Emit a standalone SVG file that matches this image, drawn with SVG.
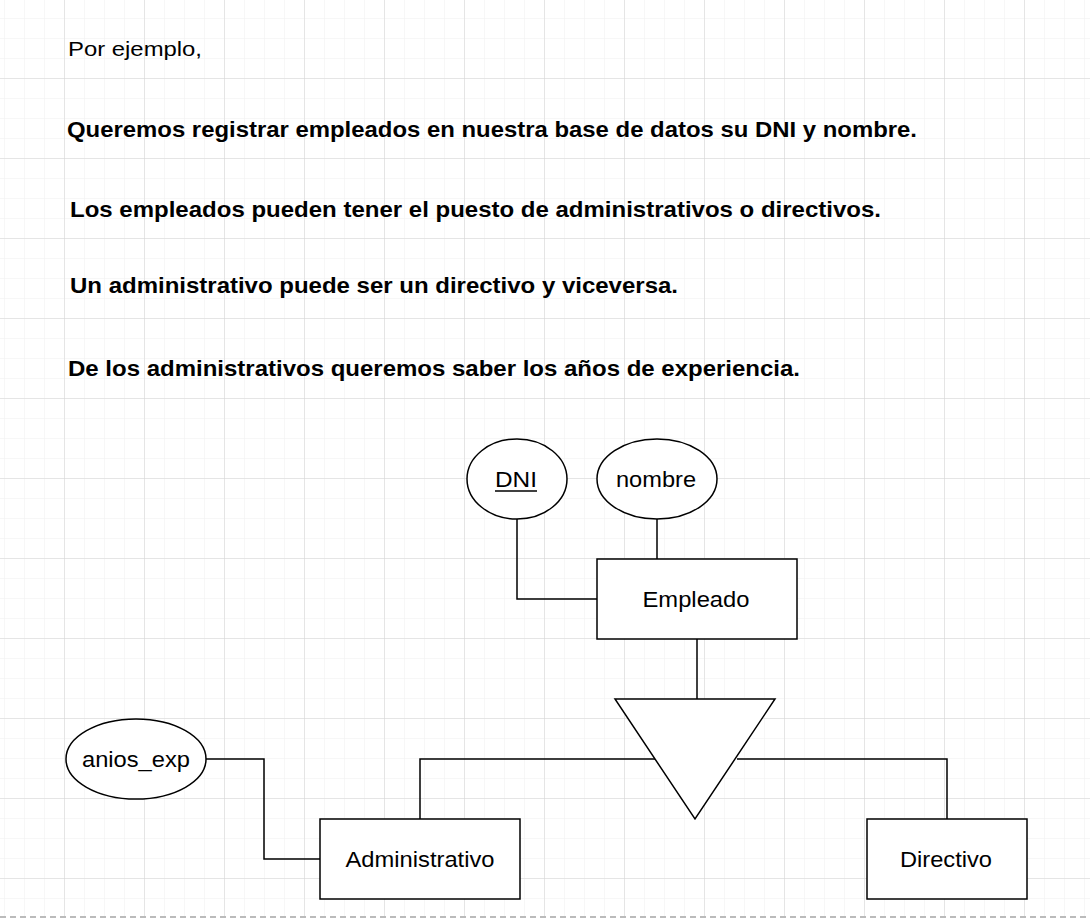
<svg xmlns="http://www.w3.org/2000/svg" width="1090" height="920" viewBox="0 0 1090 920">
<defs>
<pattern id="minor" x="4" y="-2" width="20" height="20" patternUnits="userSpaceOnUse"><path d="M0 0H20M0 0V20" fill="none" stroke="#f0f0f0" stroke-width="1"/></pattern>
<pattern id="major" x="64" y="-2" width="80" height="80" patternUnits="userSpaceOnUse"><path d="M0 0H80M0 0V80" fill="none" stroke="#d4d4d4" stroke-width="1"/></pattern>
</defs>
<style>
text{font-family:"Liberation Sans",Arial,sans-serif;fill:#000}
.b{font-weight:bold;font-size:22px}
.n{font-size:22px;text-anchor:middle;dominant-baseline:central}
.s{fill:#fff;stroke:#000;stroke-width:1.5}
.c{fill:none;stroke:#000;stroke-width:1.5}
</style>
<rect width="1090" height="920" fill="#fff"/>
<rect width="1090" height="918" fill="url(#minor)"/>
<rect width="1090" height="918" fill="url(#major)"/>
<line x1="0" y1="917" x2="1090" y2="917" stroke="#bbb" stroke-width="2" stroke-dasharray="6 4"/>
<g id="texts">
<text x="68" y="56" font-size="21" textLength="134" lengthAdjust="spacingAndGlyphs">Por ejemplo,</text>
<text class="b" x="67" y="137" textLength="850" lengthAdjust="spacingAndGlyphs">Queremos registrar empleados en nuestra base de datos su DNI y nombre.</text>
<text class="b" x="70" y="217" textLength="811" lengthAdjust="spacingAndGlyphs">Los empleados pueden tener el puesto de administrativos o directivos.</text>
<text class="b" x="70" y="293" textLength="608" lengthAdjust="spacingAndGlyphs">Un administrativo puede ser un directivo y viceversa.</text>
<text class="b" x="68" y="376" textLength="732" lengthAdjust="spacingAndGlyphs">De los administrativos queremos saber los años de experiencia.</text>
</g>
<g id="connectors">
<path class="c" d="M517 519V599H597"/>
<path class="c" d="M657 519V559"/>
<path class="c" d="M697 639V699"/>
<path class="c" d="M655 759H420V819"/>
<path class="c" d="M737 759H947V819"/>
<path class="c" d="M205 759H264V859H320"/>
</g>
<g id="DNI"><ellipse class="s" cx="517" cy="479" rx="50" ry="40"/><text class="n" x="516" y="479" textLength="42" lengthAdjust="spacingAndGlyphs">DNI</text><line x1="495" y1="491" x2="537" y2="491" stroke="#000" stroke-width="1.5"/></g>
<g id="nombre"><ellipse class="s" cx="657" cy="479" rx="60" ry="40"/><text class="n" x="656" y="479" textLength="80" lengthAdjust="spacingAndGlyphs">nombre</text></g>
<g id="Empleado"><rect class="s" x="597" y="559" width="200" height="80"/><text class="n" x="696" y="599" textLength="107" lengthAdjust="spacingAndGlyphs">Empleado</text></g>
<g id="isa"><polygon class="s" points="615,699 775,699 695,819"/></g>
<g id="anios_exp"><ellipse class="s" cx="136" cy="759" rx="70" ry="40"/><text class="n" x="136" y="759" textLength="108" lengthAdjust="spacingAndGlyphs">anios_exp</text></g>
<g id="Administrativo"><rect class="s" x="320" y="819" width="200" height="80"/><text class="n" x="420" y="859" textLength="149" lengthAdjust="spacingAndGlyphs">Administrativo</text></g>
<g id="Directivo"><rect class="s" x="867" y="819" width="160" height="80"/><text class="n" x="946" y="859" textLength="92" lengthAdjust="spacingAndGlyphs">Directivo</text></g>
</svg>
